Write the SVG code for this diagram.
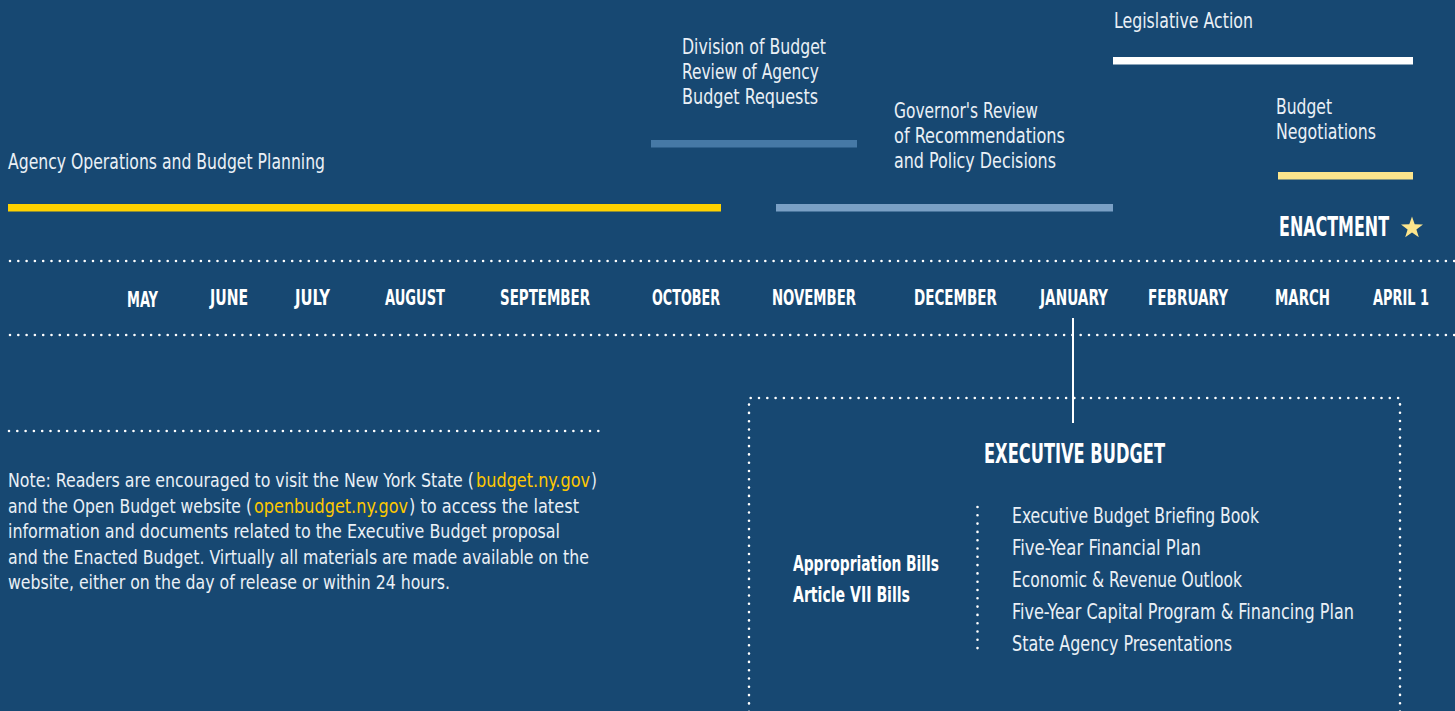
<svg xmlns="http://www.w3.org/2000/svg" width="1455" height="711" viewBox="0 0 1455 711">
  <style>
    .lbl { font-family: "Liberation Sans Narrow", "DejaVu Sans Condensed", "Liberation Sans", sans-serif; font-size: 21px; fill: #EAF0F6; }
    .note { font-family: "Liberation Sans Narrow", "DejaVu Sans Condensed", "Liberation Sans", sans-serif; font-size: 20px; fill: #EAF0F6; }
    .link { fill: #FFC800; }
    .month { font-family: "Liberation Sans Narrow", "DejaVu Sans Condensed", "Liberation Sans", sans-serif; font-size: 21px; font-weight: bold; fill: #FFFFFF; }
    .head { font-family: "Liberation Sans Narrow", "DejaVu Sans Condensed", "Liberation Sans", sans-serif; font-weight: bold; fill: #FFFFFF; }
    .dots { stroke: #FFFFFF; stroke-width: 2.6; stroke-linecap: round; stroke-dasharray: 0 8.3; fill: none; }
  </style>
  <rect width="1455" height="711" fill="#174872"/>

  <!-- phase bars and their labels -->
  <g id="phase-agency">
    <text class="lbl" x="8" y="169" textLength="317" lengthAdjust="spacingAndGlyphs">Agency Operations and Budget Planning</text>
    <rect x="8" y="204" width="713" height="7.5" fill="#FFD200"/>
  </g>
  <g id="phase-dob">
    <text class="lbl" x="682" y="54" textLength="144" lengthAdjust="spacingAndGlyphs">Division of Budget</text>
    <text class="lbl" x="682" y="79" textLength="137" lengthAdjust="spacingAndGlyphs">Review of Agency</text>
    <text class="lbl" x="682" y="104" textLength="136" lengthAdjust="spacingAndGlyphs">Budget Requests</text>
    <rect x="651" y="140" width="206" height="7.5" fill="#4679A6"/>
  </g>
  <g id="phase-governor">
    <text class="lbl" x="894" y="118" textLength="144" lengthAdjust="spacingAndGlyphs">Governor's Review</text>
    <text class="lbl" x="894" y="143" textLength="171" lengthAdjust="spacingAndGlyphs">of Recommendations</text>
    <text class="lbl" x="894" y="168" textLength="162" lengthAdjust="spacingAndGlyphs">and Policy Decisions</text>
    <rect x="776" y="204" width="337" height="7.5" fill="#7AA0C5"/>
  </g>
  <g id="phase-legislative">
    <text class="lbl" x="1114" y="28" textLength="139" lengthAdjust="spacingAndGlyphs">Legislative Action</text>
    <rect x="1113" y="57" width="300" height="7.5" fill="#FFFFFF"/>
  </g>
  <g id="phase-negotiations">
    <text class="lbl" x="1276" y="114" textLength="56" lengthAdjust="spacingAndGlyphs">Budget</text>
    <text class="lbl" x="1276" y="139" textLength="100" lengthAdjust="spacingAndGlyphs">Negotiations</text>
    <rect x="1278" y="172" width="135" height="7.5" fill="#FCE58C"/>
  </g>
  <g id="enactment">
    <text class="head" x="1279" y="236" font-size="26" textLength="110" lengthAdjust="spacingAndGlyphs">ENACTMENT</text>
    <polygon fill="#FCE58C" points="1412,216.5 1414.7,224.3 1423,224.4 1416.4,229.4 1418.8,237.3 1412,232.6 1405.2,237.3 1407.6,229.4 1401,224.4 1409.3,224.3"/>
  </g>

  <!-- month timeline -->
  <g id="timeline">
    <line class="dots" x1="10" y1="261" x2="1455" y2="261"/>
    <line class="dots" x1="10" y1="335" x2="1455" y2="335"/>
    <text class="month" x="127" y="307" textLength="31" lengthAdjust="spacingAndGlyphs">MAY</text>
    <text class="month" x="210" y="305" textLength="38" lengthAdjust="spacingAndGlyphs">JUNE</text>
    <text class="month" x="295" y="305" textLength="35" lengthAdjust="spacingAndGlyphs">JULY</text>
    <text class="month" x="385" y="305" textLength="60" lengthAdjust="spacingAndGlyphs">AUGUST</text>
    <text class="month" x="500" y="305" textLength="90" lengthAdjust="spacingAndGlyphs">SEPTEMBER</text>
    <text class="month" x="652" y="305" textLength="68" lengthAdjust="spacingAndGlyphs">OCTOBER</text>
    <text class="month" x="772" y="305" textLength="84" lengthAdjust="spacingAndGlyphs">NOVEMBER</text>
    <text class="month" x="914" y="305" textLength="83" lengthAdjust="spacingAndGlyphs">DECEMBER</text>
    <text class="month" x="1040" y="305" textLength="68" lengthAdjust="spacingAndGlyphs">JANUARY</text>
    <text class="month" x="1148" y="305" textLength="80" lengthAdjust="spacingAndGlyphs">FEBRUARY</text>
    <text class="month" x="1275" y="305" textLength="55" lengthAdjust="spacingAndGlyphs">MARCH</text>
    <text class="month" x="1373" y="305" textLength="56" lengthAdjust="spacingAndGlyphs">APRIL 1</text>
  </g>

  <!-- connector from January to the Executive Budget box -->
  <g id="connectors">
    <line x1="1073" y1="318" x2="1073" y2="423" stroke="#FFFFFF" stroke-width="2"/>
  </g>

  <!-- note: set in a horizontally condensed frame -->
  <g id="note">
    <line class="dots" x1="9" y1="431" x2="601" y2="431"/>
    <g transform="scale(0.84,1)">
      <text class="note" x="9.52" y="487" textLength="554.8" lengthAdjust="spacingAndGlyphs">Note: Readers are encouraged to visit the New York State (</text>
      <text class="note link" x="566.7" y="487" textLength="135.7" lengthAdjust="spacingAndGlyphs">budget.ny.gov</text>
      <text class="note" x="703.6" y="487">)</text>
      <text class="note" x="9.52" y="513" textLength="290.5" lengthAdjust="spacingAndGlyphs">and the Open Budget website (</text>
      <text class="note link" x="302.4" y="513" textLength="183.3" lengthAdjust="spacingAndGlyphs">openbudget.ny.gov</text>
      <text class="note" x="486.9" y="513" textLength="202.4" lengthAdjust="spacingAndGlyphs">) to access the latest</text>
      <text class="note" x="9.52" y="538" textLength="657.1" lengthAdjust="spacingAndGlyphs">information and documents related to the Executive Budget proposal</text>
      <text class="note" x="9.52" y="564" textLength="691.7" lengthAdjust="spacingAndGlyphs">and the Enacted Budget. Virtually all materials are made available on the</text>
      <text class="note" x="9.52" y="589" textLength="526.2" lengthAdjust="spacingAndGlyphs">website, either on the day of release or within 24 hours.</text>
    </g>
  </g>

  <!-- executive budget box -->
  <g id="executive-budget">
    <path class="dots" d="M749,720 V398 H1400 V720"/>
    <text class="head" x="984" y="463" font-size="27" textLength="181" lengthAdjust="spacingAndGlyphs">EXECUTIVE BUDGET</text>
    <text class="head" x="793" y="571" font-size="21" textLength="146" lengthAdjust="spacingAndGlyphs">Appropriation Bills</text>
    <text class="head" x="793" y="602" font-size="21" textLength="117" lengthAdjust="spacingAndGlyphs">Article VII Bills</text>
    <line class="dots" x1="977.5" y1="507" x2="977.5" y2="651"/>
    <text class="lbl" x="1012" y="523" textLength="247" lengthAdjust="spacingAndGlyphs">Executive Budget Briefing Book</text>
    <text class="lbl" x="1012" y="555" textLength="189" lengthAdjust="spacingAndGlyphs">Five-Year Financial Plan</text>
    <text class="lbl" x="1012" y="587" textLength="230" lengthAdjust="spacingAndGlyphs">Economic &amp; Revenue Outlook</text>
    <text class="lbl" x="1012" y="619" textLength="342" lengthAdjust="spacingAndGlyphs">Five-Year Capital Program &amp; Financing Plan</text>
    <text class="lbl" x="1012" y="651" textLength="220" lengthAdjust="spacingAndGlyphs">State Agency Presentations</text>
  </g>
</svg>
